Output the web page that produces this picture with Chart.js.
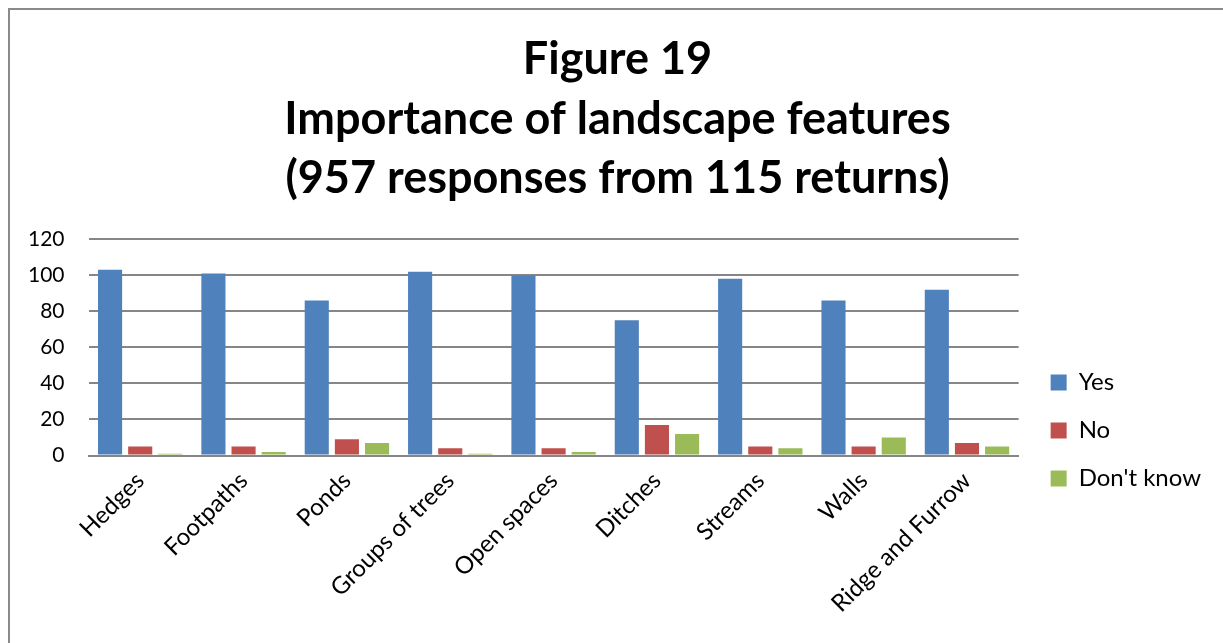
<!DOCTYPE html>
<html>
<head>
<meta charset="utf-8">
<script src="https://cdn.jsdelivr.net/npm/chart.js@4"></script>
<style>
  html, body { margin: 0; padding: 0; background: #fff; overflow: hidden; }
  #frame {
    position: absolute; left: 8px; top: 8px;
    width: 1240px; height: 660px;
    border: 2px solid #8a8a8a; box-sizing: border-box;
  }
  #wrap { position: absolute; left: 0; top: 0; width: 1213px; height: 633px; }
</style>
</head>
<body>
<div id="frame"><div id="wrap"><canvas id="chart"></canvas></div></div>
<script>
// Data
const categories = ["Hedges", "Footpaths", "Ponds", "Groups of trees", "Open spaces",
                    "Ditches", "Streams", "Walls", "Ridge and Furrow"];
const yesValues = [103, 101, 86, 102, 100, 75, 98, 86, 92];
const noValues = [5, 5, 9, 4, 4, 17, 5, 5, 7];
const dontKnowValues = [1, 2, 7, 1, 2, 12, 4, 10, 5];
const yTicks = [0, 20, 40, 60, 80, 100, 120];

const fontFamily = "Lato, 'Open Sans', sans-serif";

// title centred on the whole frame, legend sits low and to the right, as in the original
const nudgeBoxes = {
  id: "nudgeBoxes",
  afterLayout(chart) {
    const t = chart.titleBlock;
    t.left += 14;
    t.right += 14;
    const lg = chart.legend;
    lg.left += 8;
    lg.right += 8;
    lg.top += 105;
    lg.bottom += 105;
  },
};

const canvas = document.getElementById("chart");

new Chart(canvas, {
  type: "bar",
  data: {
    labels: categories,
    datasets: [
      { label: "Yes", data: yesValues, backgroundColor: "#4f81bd" },
      { label: "No", data: noValues, backgroundColor: "#c0504d" },
      { label: "Don't know", data: dontKnowValues, backgroundColor: "#9bbb59" },
    ],
  },
  plugins: [nudgeBoxes],
  options: {
    responsive: true,
    maintainAspectRatio: false,
    animation: false,
    categoryPercentage: 0.875,
    barPercentage: 0.8,
    layout: { padding: { left: -6, right: 20, top: 20, bottom: 22 } },
    plugins: {
      title: {
        display: true,
        text: ["Figure 19", "Importance of landscape features", "(957 responses from 115 returns)"],
        color: "#000",
        font: { family: fontFamily, size: 45, weight: "bold", lineHeight: 1.32 },
        padding: { top: 0, bottom: 31 },
      },
      legend: {
        position: "right",
        align: "center",
        labels: {
          color: "#000",
          font: { family: fontFamily, size: 24 },
          boxWidth: 16,
          boxHeight: 16,
          padding: 24,
        },
      },
      tooltip: { enabled: false },
    },
    scales: {
      x: {
        grid: { display: false },
        border: { color: "#868686", width: 2 },
        ticks: {
          color: "#000",
          font: { family: fontFamily, size: 24 },
          minRotation: 45,
          maxRotation: 45,
        },
      },
      y: {
        min: 0,
        max: 120,
        afterBuildTicks: (axis) => {
          axis.ticks = yTicks.map((v) => ({ value: v }));
        },
        grid: { color: "#868686", lineWidth: 2, drawTicks: false },
        border: { display: false },
        ticks: {
          color: "#000",
          font: { family: fontFamily, size: 21 },
          padding: 24,
        },
      },
    },
  },
});
</script>
</body>
</html>
